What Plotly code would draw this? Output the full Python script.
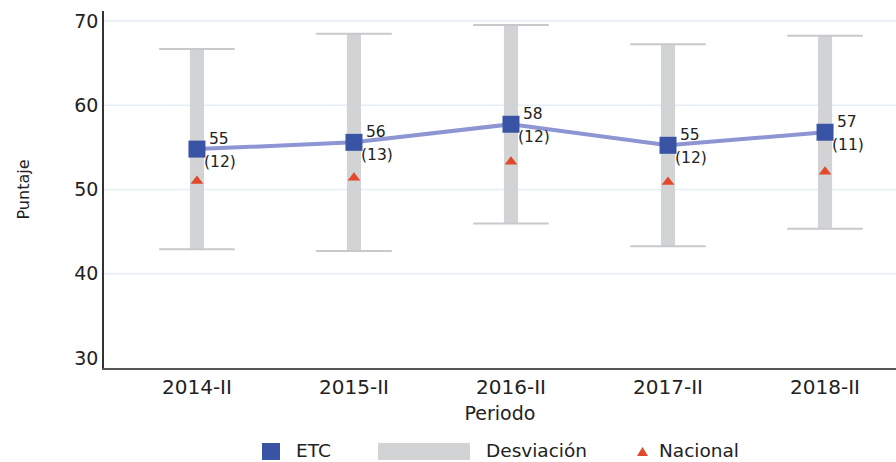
import plotly.graph_objects as go

periodos = ["2014-II", "2015-II", "2016-II", "2017-II", "2018-II"]
etc = [54.8, 55.6, 57.75, 55.25, 56.8]
desviacion = [11.9, 12.9, 11.8, 12.0, 11.45]
nacional = [51.0, 51.4, 53.3, 50.9, 52.1]
y_ticks = [30, 40, 50, 60, 70]
y_grid = [40, 50, 60, 70]

FONT = "DejaVu Sans"
W, H = 896, 462
L, R, T, B = 104, 0, 11, 94
pw, ph = W - L - R, H - T - B

xs = list(range(len(periodos)))
low = [e - d for e, d in zip(etc, desviacion)]
high = [e + d for e, d in zip(etc, desviacion)]

fig = go.Figure()

# deviation bars
fig.add_trace(go.Bar(
    x=xs, y=[h - l for h, l in zip(high, low)], base=low, width=0.09,
    marker=dict(color="#d2d3d5", line=dict(width=0)), showlegend=False,
    hoverinfo="skip"))
# caps
fig.add_trace(go.Scatter(
    x=xs + xs, y=low + high, mode="markers",
    marker=dict(symbol="line-ew", size=54, line=dict(width=2, color="#c8c9cc")),
    showlegend=False, hoverinfo="skip"))
# ETC line
fig.add_trace(go.Scatter(
    x=xs, y=etc, mode="lines+markers",
    line=dict(color="#8d95d3", width=4),
    marker=dict(symbol="square", size=17, color="#3953a5"),
    showlegend=False))
# Nacional
fig.add_trace(go.Scatter(
    x=xs, y=nacional, mode="markers",
    marker=dict(symbol="triangle-up", size=11, color="#e2492a"),
    showlegend=False))

ann = []
lab_font = dict(size=15.5, color="#222", family=FONT)
for i, (e, d) in enumerate(zip(etc, desviacion)):
    ann.append(dict(x=i, y=e, xref="x", yref="y", text=str(round(e)),
                    showarrow=False, xanchor="left", yanchor="middle",
                    xshift=10, yshift=10, font=lab_font))
    ann.append(dict(x=i, y=e, xref="x", yref="y", text="(" + str(round(d)) + ")",
                    showarrow=False, xanchor="left", yanchor="middle",
                    xshift=5, yshift=-13, font=lab_font))

def px(x):
    return (x - L) / pw

def py(y):
    return (H - B - y) / ph

shapes = []
for g in y_grid:
    shapes.append(dict(type="line", xref="paper", yref="y", x0=0, x1=1, y0=g, y1=g,
                       line=dict(color="#e6edf4", width=1.5), layer="below"))
# legend: ETC square
shapes.append(dict(type="rect", xref="paper", yref="paper",
                   x0=px(262), x1=px(280), y0=py(460), y1=py(443),
                   fillcolor="#3953a5", line=dict(width=0)))
# legend: Desviación rect
shapes.append(dict(type="rect", xref="paper", yref="paper",
                   x0=px(378), x1=px(470), y0=py(460), y1=py(443),
                   fillcolor="#d2d3d5", line=dict(width=0)))
# legend: Nacional triangle
shapes.append(dict(type="path", xref="paper", yref="paper",
                   path=f"M {px(637)},{py(456)} L {px(648)},{py(456)} L {px(642.5)},{py(447)} Z",
                   fillcolor="#e2492a", line=dict(width=0)))

leg_font = dict(size=18.5, color="#222", family=FONT)
for txt, x0 in [("ETC", 294), ("Desviación", 484), ("Nacional", 657)]:
    ann.append(dict(x=px(x0), y=py(450), xref="paper", yref="paper", text=txt,
                    showarrow=False, xanchor="left", yanchor="middle", font=leg_font))

fig.update_layout(
    width=W, height=H,
    margin=dict(l=L, r=R, t=T, b=B),
    plot_bgcolor="white", paper_bgcolor="white",
    font=dict(family=FONT, color="#222"),
    showlegend=False,
    annotations=ann, shapes=shapes,
    xaxis=dict(range=[-0.592, 4.452], tickvals=xs, ticktext=periodos,
               showgrid=False, zeroline=False, showline=True,
               linecolor="#555", linewidth=1.5, ticks="",
               tickfont=dict(size=20, family=FONT, color="#222"),
               title=dict(text="Periodo", font=dict(size=19, family=FONT, color="#222"),
                          standoff=9)),
    yaxis=dict(range=[28.8, 71.2], tickvals=y_ticks,
               showgrid=False, zeroline=False,
               showline=True, linecolor="#333", linewidth=1.5, ticks="",
               tickfont=dict(size=19, family=FONT, color="#222"),
               title=dict(text="Puntaje", font=dict(size=16, family=FONT, color="#222"),
                          standoff=41)),
)

fig.write_html("out.html", config={"displayModeBar": False},
               post_script="document.body.style.margin='0px';document.body.style.overflow='hidden';")
